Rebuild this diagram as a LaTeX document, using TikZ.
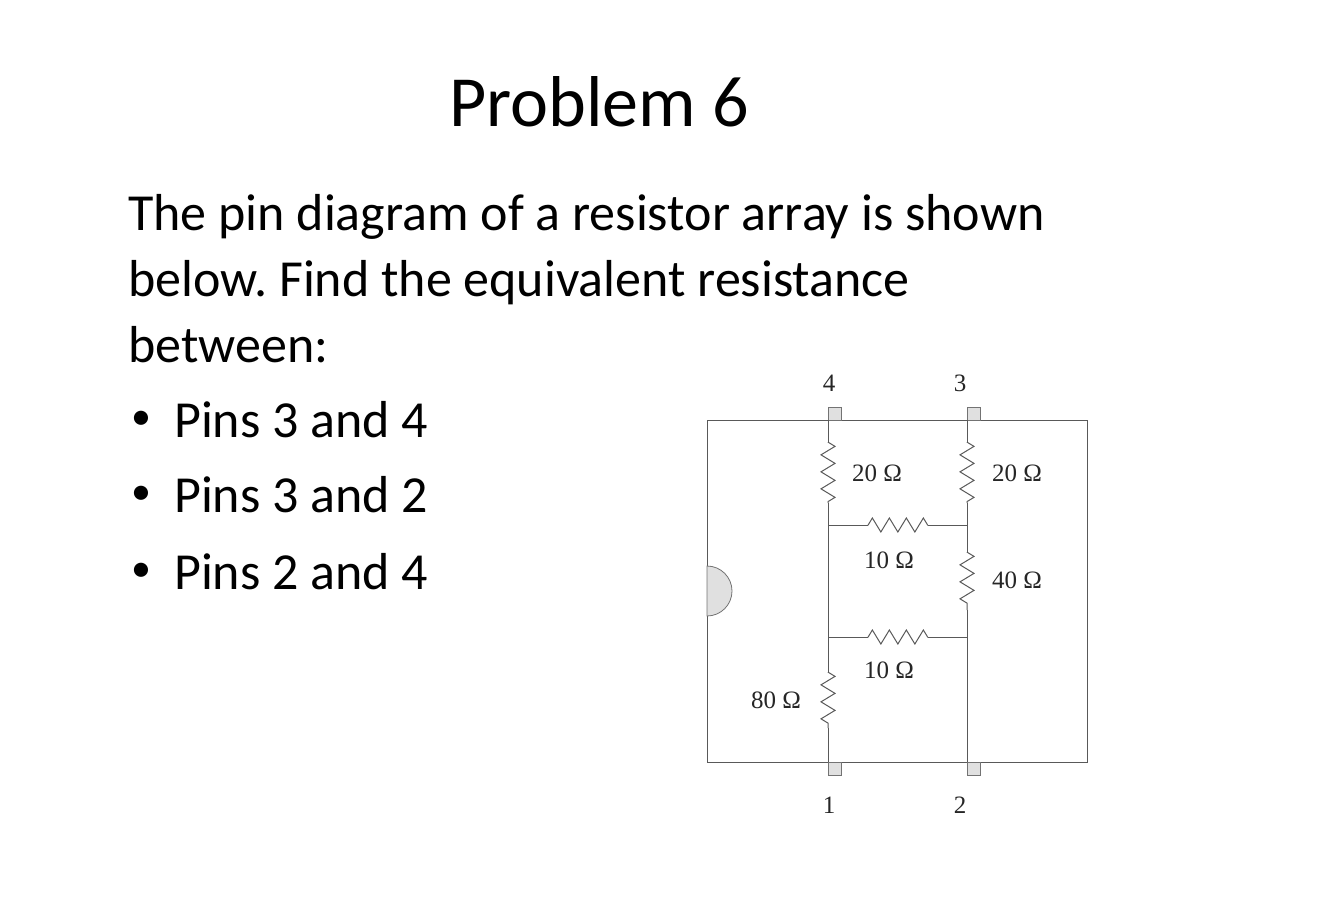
\documentclass[tikz,border=0pt]{standalone}
\usepackage{fontspec}
\setmainfont{Carlito}
\newfontfamily\serifc{Liberation Serif}
\usetikzlibrary{decorations.pathmorphing}
\begin{document}
\frenchspacing
\begin{tikzpicture}[x=1pt,y=-1pt,
  wire/.style={draw=black!65,line width=1pt},
  res/.style={wire,decorate,decoration={zigzag,segment length=17pt,amplitude=7pt,pre length=0.1pt,post length=0.1pt}},
  pin/.style={draw=black!55,fill=black!12,line width=0.8pt},
  lab/.style={font=\serifc\fontsize{25}{26}\selectfont,text=black!85,inner sep=0pt}]
\useasboundingbox (0,0) rectangle (1322,922);
\node[font=\fontsize{72}{80}\selectfont] (title) at (599,102) {Problem 6};
\node[anchor=north west,align=left,inner sep=0pt,font=\fontsize{52}{66}\selectfont\frenchspacing] (txt) at (128,194)
 {The pin diagram of a resistor array is shown\\below. Find the equivalent resistance\\between:};
\foreach \y/\t [count=\i] in {420/Pins 3 and 4,495/Pins 3 and 2,572/Pins 2 and 4}{
  \node[inner sep=0pt,font=\fontsize{40}{40}\selectfont] (u\i) at (141,\y) {•};
  \node[anchor=west,inner sep=0pt,font=\fontsize{52}{60}\selectfont] (b\i) at (174,\y) {\t};}
% box
\draw[wire] (707,420) rectangle (1087,762);
\draw[pin] (707,616) arc[start angle=90,end angle=-90,radius=25] -- cycle;
% pins
\foreach \x/\n in {828/p4,967/p3}{\draw[pin] (\x,407) rectangle (\x+13,420); \coordinate (\n) at (\x,420);}
\foreach \x/\n in {828/p1,967/p2}{\draw[pin] (\x,762) rectangle (\x+13,775); \coordinate (\n) at (\x,762);}
\coordinate (a1) at (828,442); \coordinate (a2) at (828,503);
\coordinate (b1) at (967,442); \coordinate (b2) at (967,503);
\coordinate (L1) at (828,525); \coordinate (R1) at (967,525);
\coordinate (L2) at (828,637); \coordinate (R2) at (967,637);
\coordinate (h1) at (868,525); \coordinate (h2) at (928,525);
\coordinate (h3) at (868,637); \coordinate (h4) at (928,637);
\coordinate (c1) at (967,552); \coordinate (c2) at (967,610);
\coordinate (d1) at (828,672); \coordinate (d2) at (828,728);
\draw[wire] (p4)--(a1) (a2)--(L1)--(L2)--(d1) (d2)--(p1);
\draw[wire] (p3)--(b1) (b2)--(R1)--(c1) (c2)--(R2)--(p2);
\draw[wire] (L1)--(h1) (h2)--(R1) (L2)--(h3) (h4)--(R2);
\draw[res] (a1)--(a2); \draw[res] (b1)--(b2); \draw[res] (c1)--(c2); \draw[res] (d1)--(d2);
\draw[res] (h1)--(h2); \draw[res] (h3)--(h4);
\node[lab] at (829,383) {4}; \node[lab] at (960,383) {3};
\node[lab] at (829,805) {1}; \node[lab] at (960,805) {2};
\node[lab] at (877,473) {20 Ω}; \node[lab] at (1017,473) {20 Ω};
\node[lab] at (889,560) {10 Ω}; \node[lab] at (889,670) {10 Ω};
\node[lab] at (1017,580) {40 Ω}; \node[lab] at (776,700) {80 Ω};
\end{tikzpicture}
\end{document}
